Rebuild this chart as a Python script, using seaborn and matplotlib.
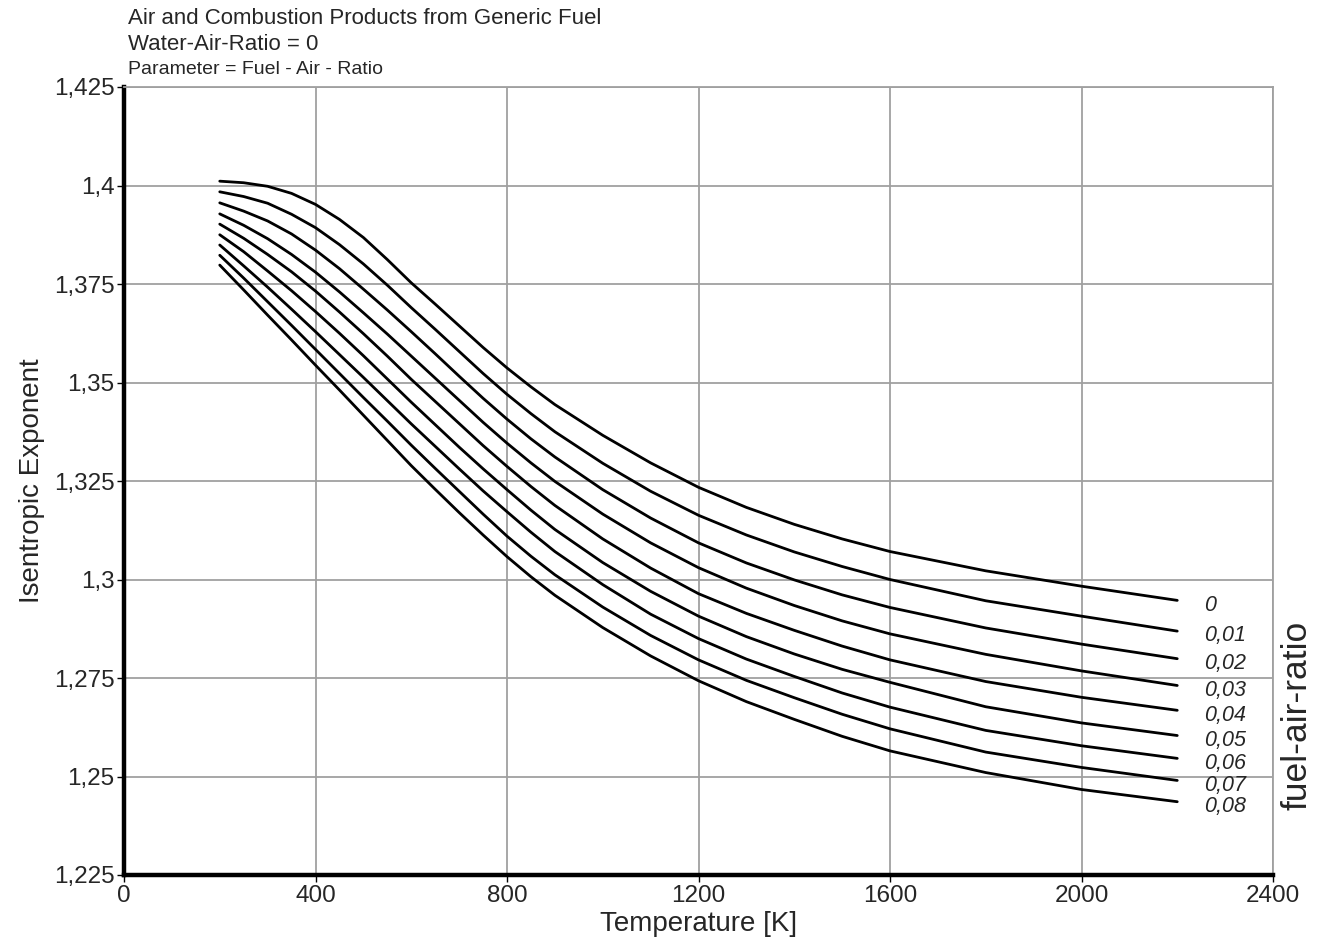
import numpy as np
import pandas as pd
import matplotlib
matplotlib.use("Agg")
import matplotlib.pyplot as plt
import seaborn as sns
from matplotlib.ticker import FuncFormatter

# ---- data ----
temperature = [200, 250, 300, 350, 400, 450, 500, 550, 600, 650, 700, 750, 800, 850, 900,
               1000, 1100, 1200, 1300, 1400, 1500, 1600, 1800, 2000, 2200]
far_labels = ["0", "0,01", "0,02", "0,03", "0,04", "0,05", "0,06", "0,07", "0,08"]

far_000 = [1.4011, 1.4007, 1.3998, 1.3980, 1.3952, 1.3914, 1.3868, 1.3812, 1.3753, 1.3699,
           1.3644, 1.3589, 1.3537, 1.3489, 1.3444, 1.3366, 1.3296, 1.3234, 1.3183, 1.3140,
           1.3103, 1.3071, 1.3022, 1.2983, 1.2947]
far_001 = [1.3984, 1.3972, 1.3955, 1.3927, 1.3893, 1.3850, 1.3801, 1.3747, 1.3690, 1.3635,
           1.3579, 1.3523, 1.3470, 1.3421, 1.3375, 1.3295, 1.3224, 1.3163, 1.3113, 1.3070,
           1.3033, 1.3000, 1.2946, 1.2907, 1.2869]
far_002 = [1.3956, 1.3935, 1.3910, 1.3877, 1.3836, 1.3789, 1.3737, 1.3684, 1.3629, 1.3573,
           1.3516, 1.3460, 1.3407, 1.3357, 1.3311, 1.3228, 1.3156, 1.3093, 1.3042, 1.2999,
           1.2961, 1.2929, 1.2877, 1.2836, 1.2799]
far_003 = [1.3928, 1.3899, 1.3865, 1.3825, 1.3780, 1.3730, 1.3677, 1.3623, 1.3567, 1.3511,
           1.3455, 1.3399, 1.3346, 1.3296, 1.3249, 1.3166, 1.3093, 1.3030, 1.2978, 1.2934,
           1.2895, 1.2862, 1.2810, 1.2768, 1.2731]
far_004 = [1.3902, 1.3866, 1.3825, 1.3781, 1.3732, 1.3679, 1.3624, 1.3567, 1.3508, 1.3452,
           1.3396, 1.3340, 1.3287, 1.3236, 1.3188, 1.3103, 1.3029, 1.2964, 1.2914, 1.2871,
           1.2831, 1.2796, 1.2741, 1.2701, 1.2668]
far_005 = [1.3875, 1.3832, 1.3783, 1.3733, 1.3680, 1.3625, 1.3568, 1.3509, 1.3450, 1.3393,
           1.3336, 1.3281, 1.3228, 1.3176, 1.3127, 1.3043, 1.2970, 1.2907, 1.2855, 1.2811,
           1.2772, 1.2739, 1.2677, 1.2636, 1.2604]
far_006 = [1.3849, 1.3796, 1.3742, 1.3686, 1.3629, 1.3571, 1.3513, 1.3454, 1.3395, 1.3338,
           1.3281, 1.3225, 1.3172, 1.3120, 1.3071, 1.2987, 1.2912, 1.2850, 1.2798, 1.2754,
           1.2712, 1.2676, 1.2617, 1.2578, 1.2546]
far_007 = [1.3823, 1.3765, 1.3705, 1.3645, 1.3584, 1.3523, 1.3462, 1.3402, 1.3341, 1.3282,
           1.3224, 1.3166, 1.3110, 1.3059, 1.3012, 1.2930, 1.2858, 1.2796, 1.2744, 1.2700,
           1.2658, 1.2621, 1.2562, 1.2523, 1.2490]
far_008 = [1.3798, 1.3735, 1.3671, 1.3608, 1.3544, 1.3481, 1.3417, 1.3353, 1.3289, 1.3229,
           1.3170, 1.3113, 1.3058, 1.3007, 1.2960, 1.2878, 1.2806, 1.2743, 1.2690, 1.2645,
           1.2602, 1.2565, 1.2510, 1.2467, 1.2436]

x_ticks = [0, 400, 800, 1200, 1600, 2000, 2400]
y_ticks = [1.225, 1.25, 1.275, 1.3, 1.325, 1.35, 1.375, 1.4, 1.425]

series = [far_000, far_001, far_002, far_003, far_004, far_005, far_006, far_007, far_008]
rows = []
for lab, vals in zip(far_labels, series):
    for t, v in zip(temperature, vals):
        rows.append({"T": t, "kappa": v, "far": lab})
df = pd.DataFrame(rows)

# ---- figure ----
sns.set_theme(style="white")
plt.rcParams["font.family"] = ["Liberation Sans", "DejaVu Sans"]

fig = plt.figure(figsize=(13.17, 9.44), dpi=100)
ax = fig.add_axes([124 / 1317, 1 - 875 / 944, (1273 - 124) / 1317, (875 - 87) / 944])

sns.lineplot(data=df, x="T", y="kappa", hue="far", hue_order=far_labels,
             palette=["black"] * len(far_labels), legend=False, linewidth=2.0,
             ax=ax, sort=False)
for ln in ax.lines:
    ln.set_solid_joinstyle("round")

ax.set_xlim(0, 2400)
ax.set_ylim(1.225, 1.425)
ax.set_xticks(x_ticks)
ax.set_yticks(y_ticks)


def comma_fmt(v, pos):
    s = ("%.3f" % v).rstrip("0").rstrip(".")
    return s.replace(".", ",")


ax.yaxis.set_major_formatter(FuncFormatter(comma_fmt))
ax.xaxis.set_major_formatter(FuncFormatter(lambda v, p: "%d" % v))
ax.grid(True, color="#a0a0a0", linewidth=1.3)
ax.set_axisbelow(True)

for side in ["top", "right"]:
    ax.spines[side].set_color("#a0a0a0")
    ax.spines[side].set_linewidth(1.3)
for side in ["left", "bottom"]:
    ax.spines[side].set_color("black")
    ax.spines[side].set_linewidth(3.2)

ax.tick_params(axis="both", which="major", direction="out", length=5, width=1,
               color="black", labelsize=17.5, pad=2, left=True, bottom=True)

ax.set_xlabel("Temperature [K]", fontsize=20)
ax.xaxis.set_label_coords(0.5, -0.046)
ax.set_ylabel("Isentropic Exponent", fontsize=20)
ax.yaxis.set_label_coords(-0.069, 0.5)

# curve labels at the right end
for lab, vals in zip(far_labels, series):
    ax.annotate(lab, xy=(temperature[-1], vals[-1]), xytext=(19.5, -3.5),
                textcoords="offset points", ha="left", va="center",
                fontsize=15.5, fontstyle="italic")

fig.text(1297 / 1317, 1 - 715 / 944, "fuel-air-ratio", rotation=90,
         ha="center", va="center", fontsize=25.5)

fig.text(128 / 1317, 1 - 19 / 944, "Air and Combustion Products from Generic Fuel",
         ha="left", va="center", fontsize=16)
fig.text(128 / 1317, 1 - 45 / 944, "Water-Air-Ratio = 0",
         ha="left", va="center", fontsize=16)
fig.text(128 / 1317, 1 - 70 / 944, "Parameter = Fuel - Air - Ratio",
         ha="left", va="center", fontsize=14)

fig.savefig("out.png", dpi=100, facecolor="white")
